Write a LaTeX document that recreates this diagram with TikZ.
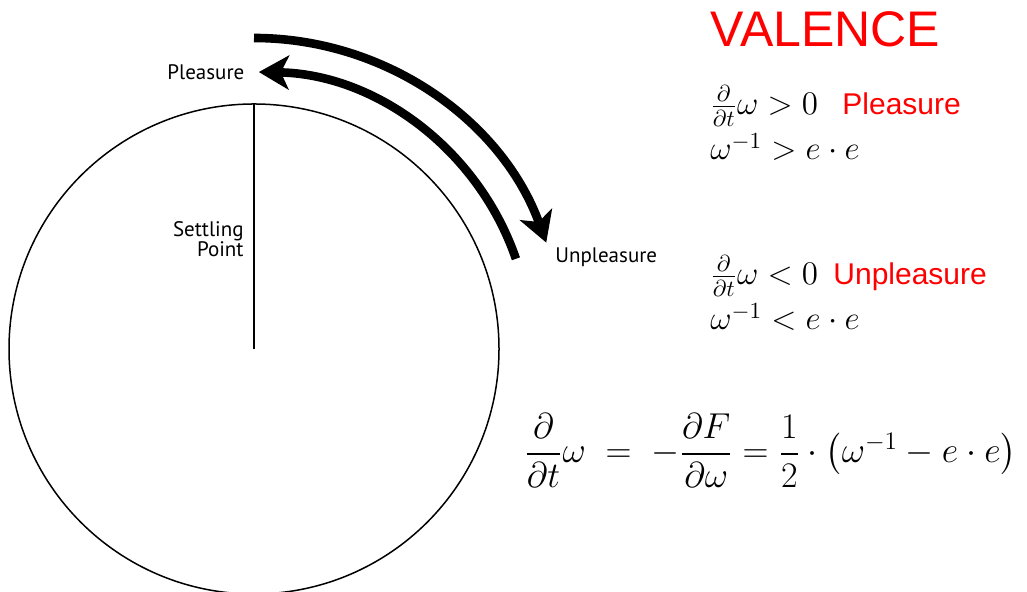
\RequirePackage{fix-cm}
\documentclass[tikz,border=0pt]{standalone}
\usepackage{amsmath}
\usepackage{fontspec}
\usepackage{xcolor}
\usetikzlibrary{arrows.meta}
\newfontfamily\lblfont{PT Sans}
\newfontfamily\redfont{Liberation Sans}
\definecolor{valred}{RGB}{255,0,0}
\tikzset{
  lbl/.style={font=\lblfont\fontsize{10.5}{10}\selectfont,inner sep=0pt},
  redlbl/.style={font=\redfont\fontsize{15}{15}\selectfont,text=valred,inner sep=0pt,anchor=base west},
  eqn/.style={font=\fontsize{16.5}{16.5}\selectfont,inner sep=0pt,anchor=base west},
  swing/.style={line width=4.3pt,-{Stealth[length=15pt,width=17pt,inset=4pt]}}
}

\begin{document}
\begin{tikzpicture}[x=0.5pt,y=0.5pt]
        \useasboundingbox (0,0) rectangle (1027,592);
        % the wheel
        \coordinate (ctr) at (254,243);
        \coordinate (settle) at (254,488);
        \draw[line width=0.75pt] (ctr) circle[radius=245];
        \draw[line width=1pt] (ctr) -- (settle);
        % valence arrows
        \draw[swing] (ctr) ++(90:311) arc[start angle=90,end angle=20,radius=311];
        \draw[swing] (ctr) ++(19:277) arc[start angle=19,end angle=89,radius=277];
        \node[lbl,anchor=base west] (pl) at (167,512) {Pleasure};
        \node[lbl,anchor=north east,align=right] (sp) at (244,371) {Settling\\Point};
        \node[lbl,anchor=base west] (unpl) at (555,329) {Unpleasure};
        % valence
        \node[font=\redfont\fontsize{25}{25}\selectfont,text=valred,inner sep=0pt,anchor=base west] (val) at (710,545) {VALENCE};
        \node[eqn] (pos1) at (710,477) {$\frac{\partial}{\partial t}\omega > 0$};
        \node[redlbl] (posw) at (842,477) {Pleasure};
        \node[eqn] (pos2) at (710,432) {$\omega^{-1} > e\cdot e$};
        \node[eqn] (neg1) at (710,307) {$\frac{\partial}{\partial t}\omega < 0$};
        \node[redlbl] (negw) at (833,307) {Unpleasure};
        \node[eqn] (neg2) at (710,262) {$\omega^{-1} < e\cdot e$};
        % flow
        \node[font=\fontsize{18}{18}\selectfont,inner sep=0pt,anchor=base west] (flow) at (524,129)
          {$\dfrac{\partial}{\partial t}\omega \;=\; -\dfrac{\partial F}{\partial\omega} = \dfrac{1}{2}\cdot\bigl(\omega^{-1}-e\cdot e\bigr)$};
      \end{tikzpicture}
\end{document}
